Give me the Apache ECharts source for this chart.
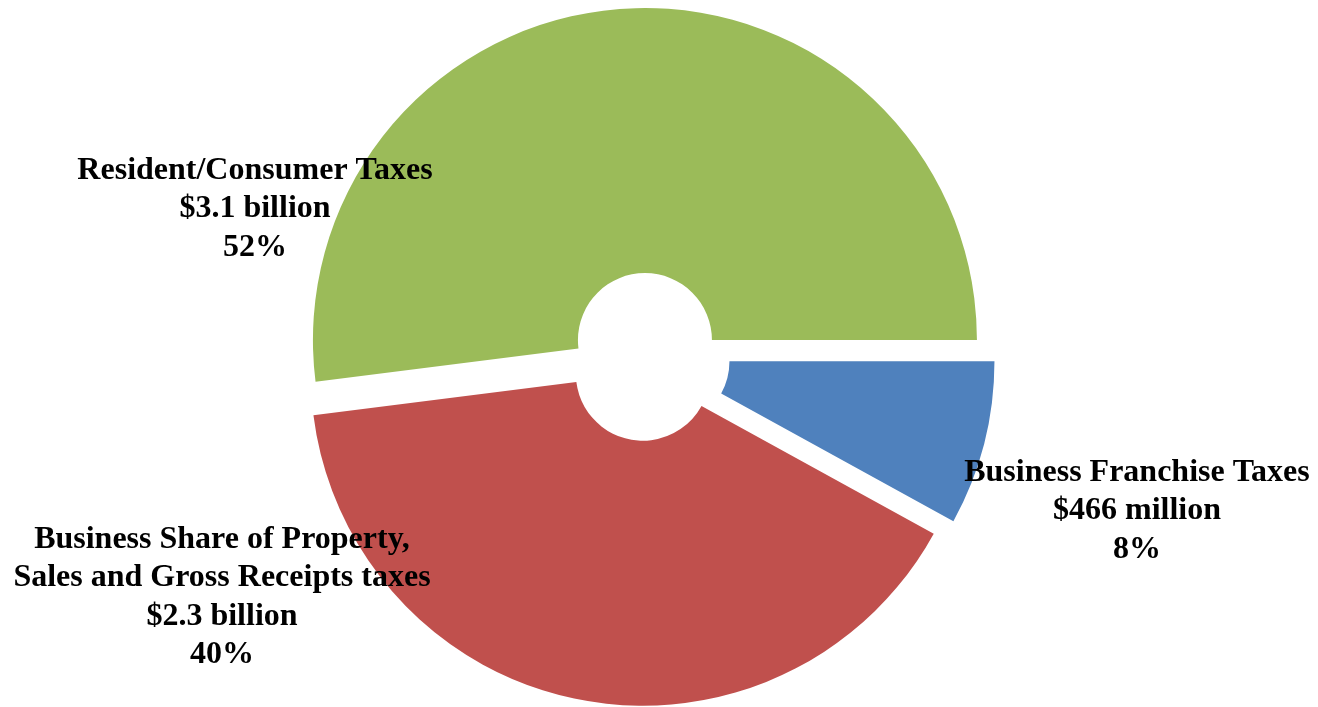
<!DOCTYPE html>
<html>
<head>
<meta charset="utf-8">
<script src="https://cdn.jsdelivr.net/npm/echarts@6/dist/echarts.min.js"></script>
<style>
  html, body { margin: 0; padding: 0; background: #ffffff; }
  #chart { width: 1318px; height: 707px; }
</style>
</head>
<body>
<div id="chart"></div>
<script>
// Tax burden split, in slice order starting at 3 o'clock and running clockwise
var categories = [
  'Business Franchise Taxes',
  'Business Share of Property,\nSales and Gross Receipts taxes',
  'Resident/Consumer Taxes'
];
var amounts = ['$466 million', '$2.3 billion', '$3.1 billion'];
var shares = [8, 40, 52];
var colors = ['#4F81BD', '#C0504D', '#9BBB59'];

// Where each slice's caption block is centred
var labelSpots = [
  { x: 1137, y: 511 },
  { x: 222, y: 597 },
  { x: 255, y: 209 }
];

var captionFont = 'bold 32px "Liberation Serif", "Times New Roman", serif';

var captions = shares.map(function (v, i) {
  return {
    type: 'text',
    x: labelSpots[i].x,
    y: labelSpots[i].y,
    z: 100,
    silent: true,
    style: {
      text: categories[i] + '\n' + amounts[i] + '\n' + v + '%',
      font: captionFont,
      fill: '#000000',
      lineHeight: 38.5,
      align: 'center',
      verticalAlign: 'middle'
    }
  };
});

var chart = echarts.init(document.getElementById('chart'), null, { renderer: 'canvas' });

chart.setOption({
  animation: false,
  backgroundColor: '#ffffff',
  graphic: captions,
  series: [{
    type: 'pie',
    center: [646, 357],
    radius: [67, 332],
    startAngle: 0,
    clockwise: true,
    selectedMode: 'multiple',
    selectedOffset: 17,
    silent: true,
    emphasis: { disabled: true },
    label: { show: false },
    labelLine: { show: false },
    data: shares.map(function (v, i) {
      return {
        name: categories[i],
        value: v,
        selected: true,
        itemStyle: { color: colors[i] },
        select: { itemStyle: { color: colors[i] } }
      };
    })
  }]
});
</script>
</body>
</html>
